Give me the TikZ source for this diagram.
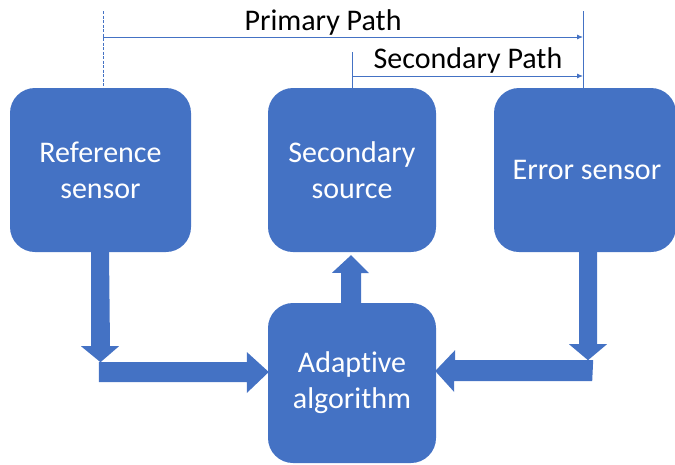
\documentclass[tikz,border=0pt]{standalone}
\usepackage{fontspec}
\setmainfont[RawFeature={-liga;-clig;-calt;-dlig;-rlig}]{Carlito}
\usetikzlibrary{arrows.meta,calc}
\definecolor{accent}{HTML}{4472C4}
\begin{document}
\begin{tikzpicture}[x=1pt,y=-1pt,
  blockbox/.style={fill=accent, rounded corners=25pt, text=white, align=center,
    font=\fontsize{30}{36}\selectfont, inner sep=0pt},
  bigarrow/.style={fill=accent},
  pathline/.style={draw=accent, line width=0.9pt},
  pathtip/.style={pathline, -{Latex[length=6pt,width=5pt]}},
  pathlabel/.style={font=\fontsize{30}{36}\selectfont, anchor=base, inner sep=0pt}]
\useasboundingbox (0,0) rectangle (675,464);
\clip (0,0) rectangle (675,464);

% blocks
\node[blockbox, minimum width=181pt, minimum height=164pt] (ref) at (100.5,170) {Reference\\sensor};
\node[blockbox, minimum width=168pt, minimum height=164pt] (sec) at (352,170) {Secondary\\source};
\node[blockbox, minimum width=182pt, minimum height=164pt] (err) at (585,170) {};
\node[text=white, font=\fontsize{30}{36}\selectfont, inner sep=0pt] (errtext) at (587,170) {Error sensor};
\node[blockbox, minimum width=168pt, minimum height=160pt] (alg) at (352,383) {Adaptive\\algorithm};

% block arrows
\fill[bigarrow] ($(ref.south)+(-9.5,0)$) -- ++(0,94) -- ++(-10,0) -- ++(19.5,16)
  -- ++(18.5,-16) -- ++(-9,0) -- ($(ref.south)+(8.5,0)$) -- cycle;
\fill[bigarrow] ($(alg.west)+(-169,-21)$) -- ++(148,0) -- ++(0,-10) -- ($(alg.west)+(1,-11)$)
  -- ++(-22,21) -- ++(0,-11) -- ++(-148,0) -- cycle;
\fill[bigarrow] ($(err.south)+(-6,0)$) -- ++(0,92) -- ++(-10,0) -- ++(19,16)
  -- ++(19,-16) -- ++(-10,0) -- ($(err.south)+(12,0)$) -- cycle;
\fill[bigarrow] ($(alg.east)+(157,-23)$) -- ++(-138,0) -- ++(0,-10) -- ($(alg.east)+(-1,-12)$)
  -- ++(19,21) -- ++(0,-11) -- ++(138,0) -- cycle;
\fill[bigarrow] ($(alg.north)+(-11,0)$) -- ++(0,-30) -- ++(-9,0) -- ($(sec.south)+(-1,3)$)
  -- ++(18,18) -- ++(-8,0) -- ($(alg.north)+(9,0)$) -- cycle;

% acoustic paths
\coordinate (ptop) at (103,11);
\coordinate (pend) at (583,11);
\coordinate (ptip) at (583,37);
\coordinate (stip) at (583,76);
\draw[pathline, line width=0.7pt, dash pattern=on 3pt off 1.5pt] (ptop) -- (ptop |- ref.north);
\draw[pathline] (pend) -- (pend |- err.north);
\draw[pathtip] (ptop |- ptip) -- (ptip);
\draw[pathline] (sec.north) -- ++(0,-36);
\draw[pathtip] (sec.north |- stip) -- (stip);
\node[pathlabel] (plabel) at (323,30) {Primary Path};
\node[pathlabel] (slabel) at (468,68) {Secondary Path};
\end{tikzpicture}
\end{document}
